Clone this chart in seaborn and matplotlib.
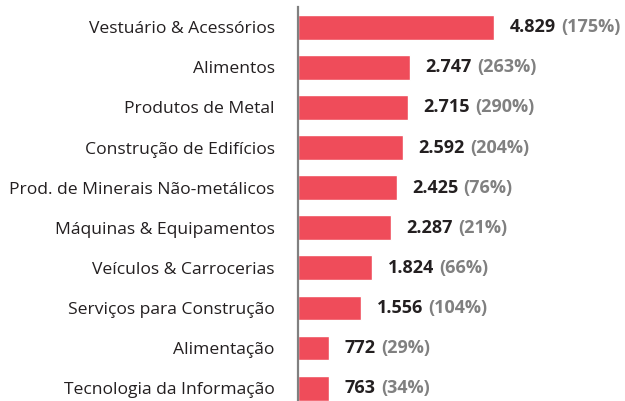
import matplotlib
matplotlib.use("Agg")
import matplotlib.pyplot as plt
import seaborn as sns
import pandas as pd

# data
setores = [
    "Vestuário & Acessórios",
    "Alimentos",
    "Produtos de Metal",
    "Construção de Edifícios",
    "Prod. de Minerais Não-metálicos",
    "Máquinas & Equipamentos",
    "Veículos & Carrocerias",
    "Serviços para Construção",
    "Alimentação",
    "Tecnologia da Informação",
]
valores = [4829, 2747, 2715, 2592, 2425, 2287, 1824, 1556, 772, 763]
rotulos_valor = ["4.829", "2.747", "2.715", "2.592", "2.425", "2.287", "1.824", "1.556", "772", "763"]
rotulos_pct = ["(175%)", "(263%)", "(290%)", "(204%)", "(76%)", "(21%)", "(66%)", "(104%)", "(29%)", "(34%)"]

df = pd.DataFrame({"setor": setores, "valor": valores})

sns.set_style("white")
plt.rcParams["font.family"] = ["Open Sans", "DejaVu Sans"]

fig = plt.figure(figsize=(6.25, 4.01), dpi=100)
ax = fig.add_axes([0.477, 0.0, 0.523, 0.982])

sns.barplot(data=df, x="valor", y="setor", color="#EF4C5A", saturation=1,
            width=0.62, ax=ax)

ax.set_xlim(0, 8050)
ax.set_ylim(9.32, -0.5)
ax.set_xlabel("")
ax.set_ylabel("")
ax.set_xticks([])
for s in ["top", "right", "bottom"]:
    ax.spines[s].set_visible(False)
ax.spines["left"].set_color("#808080")
ax.spines["left"].set_linewidth(1.6)
ax.tick_params(axis="y", length=0, pad=17, labelsize=12.6, labelcolor="#231F20")

# value labels: bold number then gray percent
fig.canvas.draw()
renderer = fig.canvas.get_renderer()
for i, (v, rv, rp) in enumerate(zip(valores, rotulos_valor, rotulos_pct)):
    t = ax.annotate(rv, xy=(v, i), xytext=(11, 0), textcoords="offset points",
                    ha="left", va="center", fontsize=13, fontweight="bold",
                    color="#231F20")
    w = t.get_window_extent(renderer).width * 72 / fig.dpi
    ax.annotate(rp, xy=(v, i), xytext=(11 + w + 4, 0), textcoords="offset points",
                ha="left", va="center", fontsize=13, fontweight="bold",
                color="#808080")

fig.savefig("out.png", dpi=100)
